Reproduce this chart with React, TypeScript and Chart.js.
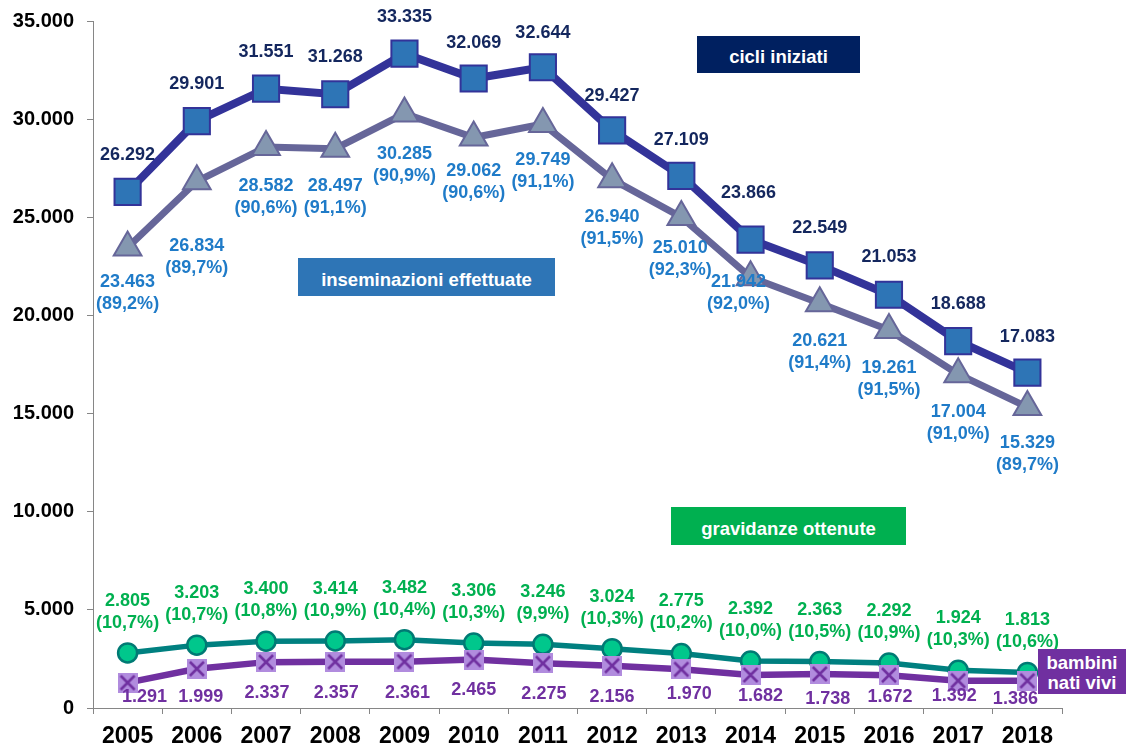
import React, { useEffect, useRef } from "react";
import { Chart, registerables } from "chart.js";

Chart.register(...registerables);

// ---------------- data ----------------
const years = ["2005", "2006", "2007", "2008", "2009", "2010", "2011", "2012", "2013", "2014", "2015", "2016", "2017", "2018"];
const cicliIniziati = [26292, 29901, 31551, 31268, 33335, 32069, 32644, 29427, 27109, 23866, 22549, 21053, 18688, 17083];
const inseminazioni = [23463, 26834, 28582, 28497, 30285, 29062, 29749, 26940, 25010, 21942, 20621, 19261, 17004, 15329];
const inseminazioniPct = ["89,2", "89,7", "90,6", "91,1", "90,9", "90,6", "91,1", "91,5", "92,3", "92,0", "91,4", "91,5", "91,0", "89,7"];
const gravidanze = [2805, 3203, 3400, 3414, 3482, 3306, 3246, 3024, 2775, 2392, 2363, 2292, 1924, 1813];
const gravidanzePct = ["10,7", "10,7", "10,8", "10,9", "10,4", "10,3", "9,9", "10,3", "10,2", "10,0", "10,5", "10,9", "10,3", "10,6"];
const natiVivi = [1291, 1999, 2337, 2357, 2361, 2465, 2275, 2156, 1970, 1682, 1738, 1672, 1392, 1386];
const yTickStep = 5000;
const yMax = 35000;

// ---------------- styling ----------------
const FONT = "'Liberation Sans', Arial, Helvetica, sans-serif";
const AXIS_GRAY = "#868686";

// label nudges (pixels, relative to each point) – styling only
const cicliNudgeX = [0, 0, 0, 0, 0, 0, 0, 0, 0, -2, 0, 0, 0, 0];
const cicliNudgeY = [-37, -37, -37, -37, -37, -36, -34, -34, -36, -47, -37, -38, -37, -36];
const insemNudgeX = [0, 0, 0, 0, 0, 0, 0, 0, -1, -12, 0, 0, 0, 0];
const insemNudgeY = [35, 65, 39, 37, 40, 33, 36, 38, 31, 5, 38, 38, 38, 36];
const gravNudgeY = -52;
const natiNudgeX = [17, 4, 1, 1, 3, 0, 1, 0, 8, 10, 8, 1, -4, -12];
const natiNudgeY = [14, 28, 31, 31, 31, 30, 31, 31, 25, 21, 25, 22, 15, 18];
const LINE2 = 22;

function fmt(v: number): string {
  return String(v).replace(/\B(?=(\d{3})+(?!\d))/g, ".");
}

function makeCrossSquare(): HTMLCanvasElement {
  const s = 20;
  const c = document.createElement("canvas");
  c.width = s;
  c.height = s;
  const ctx = c.getContext("2d")!;
  ctx.fillStyle = "#B18CDE";
  ctx.fillRect(0, 0, s, s);
  ctx.strokeStyle = "#7030A0";
  ctx.lineWidth = 2.6;
  ctx.beginPath();
  ctx.moveTo(3, 3);
  ctx.lineTo(s - 3, s - 3);
  ctx.moveTo(s - 3, 3);
  ctx.lineTo(3, s - 3);
  ctx.stroke();
  return c;
}

const labelPlugin = {
  id: "valueLabels",
  afterDatasetsDraw(chart: any) {
    const ctx: CanvasRenderingContext2D = chart.ctx;
    ctx.save();
    ctx.font = `bold 18px ${FONT}`;
    ctx.textAlign = "center";
    ctx.textBaseline = "middle";
    const metaOf = (i: number) => chart.getDatasetMeta(i).data;
    // index: 0 nati, 1 grav, 2 insem, 3 cicli
    const nati = metaOf(0);
    const grav = metaOf(1);
    const ins = metaOf(2);
    const cic = metaOf(3);
    cic.forEach((p: any, i: number) => {
      ctx.fillStyle = "#14275E";
      ctx.fillText(fmt(cicliIniziati[i]), p.x + cicliNudgeX[i], p.y + cicliNudgeY[i]);
    });
    ins.forEach((p: any, i: number) => {
      ctx.fillStyle = "#1F7BC8";
      const x = p.x + insemNudgeX[i];
      const y = p.y + insemNudgeY[i];
      ctx.fillText(fmt(inseminazioni[i]), x, y);
      ctx.fillText(`(${inseminazioniPct[i]}%)`, x, y + LINE2);
    });
    grav.forEach((p: any, i: number) => {
      ctx.fillStyle = "#00B050";
      const y = p.y + gravNudgeY;
      ctx.fillText(fmt(gravidanze[i]), p.x, y);
      ctx.fillText(`(${gravidanzePct[i]}%)`, p.x, y + LINE2);
    });
    nati.forEach((p: any, i: number) => {
      ctx.fillStyle = "#7030A0";
      ctx.fillText(fmt(natiVivi[i]), p.x + natiNudgeX[i], p.y + natiNudgeY[i]);
    });
    ctx.restore();
  },
};

const boxBase: React.CSSProperties = {
  position: "absolute",
  boxSizing: "border-box",
  color: "#fff",
  fontFamily: FONT,
  fontWeight: "bold",
  fontSize: "18.5px",
  display: "flex",
  alignItems: "center",
  justifyContent: "center",
  textAlign: "center",
  whiteSpace: "nowrap",
};

export default function App() {
  const canvasRef = useRef<HTMLCanvasElement | null>(null);

  useEffect(() => {
    if (!canvasRef.current) return;
    const crossSquare = makeCrossSquare();
    const chart = new Chart(canvasRef.current, {
      type: "line",
      data: {
        labels: years,
        datasets: [
          {
            label: "bambini nati vivi",
            data: natiVivi,
            borderColor: "#7030A0",
            borderWidth: 6.5,
            pointStyle: crossSquare as any,
            pointRadius: 10,
            tension: 0,
            clip: false as any,
          },
          {
            label: "gravidanze ottenute",
            data: gravidanze,
            borderColor: "#008080",
            borderWidth: 5.5,
            pointStyle: "circle",
            pointRadius: 9.5,
            pointBackgroundColor: "#00C78C",
            pointBorderColor: "#007A74",
            pointBorderWidth: 2.5,
            tension: 0,
            clip: false as any,
          },
          {
            label: "inseminazioni effettuate",
            data: inseminazioni,
            borderColor: "#666699",
            borderWidth: 7,
            pointStyle: "triangle",
            pointRadius: 16,
            pointBackgroundColor: "#8497B0",
            pointBorderColor: "#666699",
            pointBorderWidth: 2,
            tension: 0,
            clip: false as any,
          },
          {
            label: "cicli iniziati",
            data: cicliIniziati,
            borderColor: "#333399",
            borderWidth: 8,
            pointStyle: "rect",
            pointRadius: 18.5,
            pointBackgroundColor: "#2E75B6",
            pointBorderColor: "#333399",
            pointBorderWidth: 2,
            tension: 0,
            clip: false as any,
          },
        ],
      },
      options: {
        responsive: false,
        animation: false,
        devicePixelRatio: 1,
        layout: { padding: { top: 21, right: 64, left: 0, bottom: 0 } },
        plugins: {
          legend: { display: false },
          tooltip: { enabled: false },
        },
        scales: {
          x: {
            type: "category",
            offset: true,
            grid: {
              offset: true,
              drawOnChartArea: false,
              drawTicks: true,
              tickLength: 6,
              color: AXIS_GRAY,
              tickColor: AXIS_GRAY,
            },
            border: { color: AXIS_GRAY, width: 1 },
            ticks: {
              color: "#000",
              font: { family: FONT, size: 23, weight: "bold" },
              padding: 9,
              maxRotation: 0,
              autoSkip: false,
            },
            afterFit(s: any) {
              s.height = 41;
              s.paddingLeft = 0;
              s.paddingRight = 0;
            },
          },
          y: {
            min: 0,
            max: yMax,
            grid: {
              drawOnChartArea: false,
              drawTicks: true,
              tickLength: 6,
              color: AXIS_GRAY,
              tickColor: AXIS_GRAY,
            },
            border: { color: AXIS_GRAY, width: 1 },
            ticks: {
              stepSize: yTickStep,
              color: "#000",
              font: { family: FONT, size: 20, weight: "bold" },
              padding: 13,
              callback: (v: any) => fmt(Number(v)),
            },
            afterFit(s: any) {
              s.width = 93;
              s.paddingTop = 0;
              s.paddingBottom = 0;
            },
          },
        },
      },
      plugins: [labelPlugin],
    });
    return () => chart.destroy();
  }, []);

  return (
    <div style={{ position: "fixed", left: 0, top: 0, width: 1126, height: 749, background: "#fff", overflow: "hidden" }}>
      <canvas ref={canvasRef} width={1126} height={749} style={{ position: "absolute", left: 0, top: 0, width: 1126, height: 749 }} />
      <div style={{ ...boxBase, left: 697, top: 36, width: 163, height: 37, background: "#002060", paddingTop: 5 }}>cicli iniziati</div>
      <div style={{ ...boxBase, left: 298, top: 258, width: 257, height: 38, background: "#2E75B6", paddingTop: 6 }}>inseminazioni effettuate</div>
      <div style={{ ...boxBase, left: 671, top: 507, width: 235, height: 38, background: "#00B050", paddingTop: 5 }}>gravidanze ottenute</div>
      <div style={{ ...boxBase, left: 1038, top: 649, width: 88, height: 45, background: "#7030A0", lineHeight: "20px", flexDirection: "column", paddingTop: 2 }}>
        <span>bambini</span>
        <span>nati vivi</span>
      </div>
    </div>
  );
}
